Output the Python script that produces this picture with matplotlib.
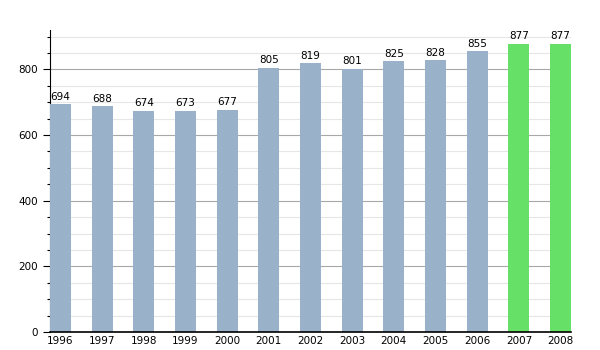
import numpy as np
import matplotlib.pyplot as plt
from matplotlib.ticker import MultipleLocator

years = ['1996', '1997', '1998', '1999', '2000', '2001', '2002',
         '2003', '2004', '2005', '2006', '2007', '2008']
population = [694, 688, 674, 673, 677, 805, 819, 801, 825, 828, 855, 877, 877]
highlight = ['2007', '2008']

blue = '#9ab1ca'
green = '#66e066'

fig = plt.figure(figsize=(6, 3.5), dpi=100)
ax = fig.add_axes([50/600, 18/350, 521/600, 302/350])

x = np.arange(len(years))
colors = [green if y in highlight else blue for y in years]
ax.bar(x, population, width=0.5, color=colors, zorder=3)

# value labels on top of each bar
for xi, v in zip(x, population):
    ax.text(xi, v + 8, str(v), ha='center', va='bottom', fontsize=7.5, zorder=4)

ax.set_xlim(-0.25, len(years) - 0.75)
ax.set_ylim(0, 920)
ax.set_xticks(x)
ax.set_xticklabels(years, fontsize=7.5)
ax.yaxis.set_major_locator(MultipleLocator(200))
ax.yaxis.set_minor_locator(MultipleLocator(50))
ax.tick_params(axis='y', labelsize=7.5, length=5, width=0.8)
ax.tick_params(axis='y', which='minor', length=2.5, width=0.8)
ax.tick_params(axis='x', length=0, pad=3)

ax.grid(axis='y', which='major', color='#a8a8a8', linewidth=0.8, zorder=0)
ax.grid(axis='y', which='minor', color='#e6e6e6', linewidth=0.8, zorder=0)
for s in ['top', 'right']:
    ax.spines[s].set_visible(False)
ax.spines['left'].set_color('black')
ax.spines['bottom'].set_color('black')
ax.spines['bottom'].set_linewidth(1.2)
ax.spines['bottom'].set_zorder(5)

fig.savefig('out.png', dpi=100)
